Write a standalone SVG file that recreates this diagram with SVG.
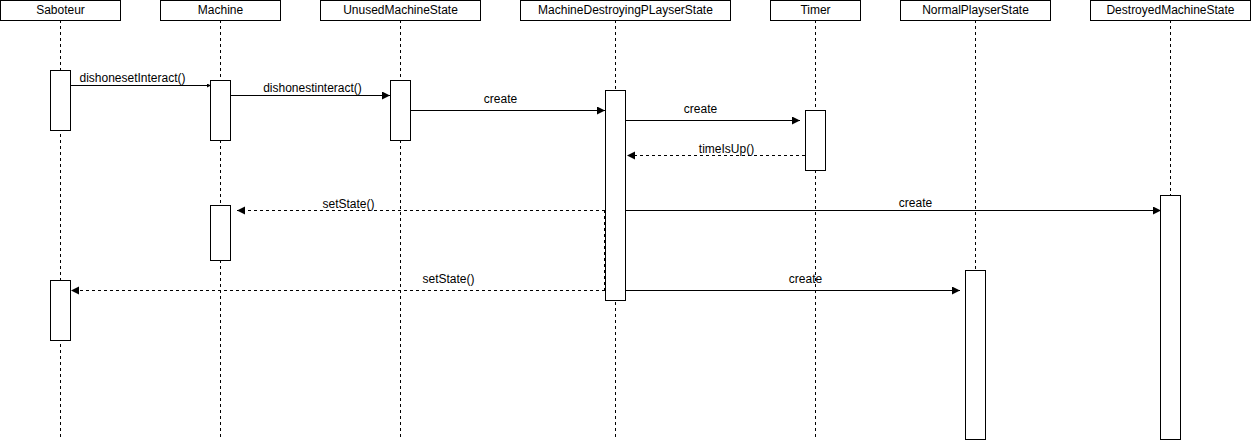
<svg xmlns="http://www.w3.org/2000/svg" width="1251" height="442" viewBox="0 0 1251 442">
  <style>
    .head { fill: #ffffff; stroke: #000000; stroke-width: 1; }
    .life { fill: none; stroke: #000000; stroke-width: 1; stroke-dasharray: 3 3; }
    .act { fill: #ffffff; stroke: #000000; stroke-width: 1; }
    .name { font-family: "Liberation Sans", Arial, sans-serif; font-size: 12px; fill: #000000; text-anchor: middle; }
    .msg { fill: none; stroke: #000000; stroke-width: 1; marker-end: url(#arrow); }
    .reply { fill: none; stroke: #000000; stroke-width: 1; stroke-dasharray: 3 3; marker-end: url(#arrow); }
    .label { font-family: "Liberation Sans", Arial, sans-serif; font-size: 12px; fill: #000000; text-anchor: middle; }
  </style>
  <defs>
    <marker id="arrow" markerUnits="userSpaceOnUse" markerWidth="10" markerHeight="10" refX="8" refY="4" orient="auto">
      <path d="M0,0 L8,4 L0,8 Z" fill="#000000"/>
    </marker>
    <marker id="arrowSmall" markerUnits="userSpaceOnUse" markerWidth="6" markerHeight="6" refX="4" refY="2" orient="auto">
      <path d="M0,0 L4,2 L0,4 Z" fill="#000000"/>
    </marker>
  </defs>
  <rect width="1251" height="442" fill="#ffffff"/>

  <!-- participants: header box and lifeline -->
  <g id="saboteur">
    <line class="life" x1="60.5" y1="20" x2="60.5" y2="440"/>
    <rect class="head" x="0.5" y="0.5" width="120" height="20"/>
    <text class="name" x="60.5" y="14">Saboteur</text>
  </g>
  <g id="machine">
    <line class="life" x1="220.5" y1="20" x2="220.5" y2="440"/>
    <rect class="head" x="160.5" y="0.5" width="120" height="20"/>
    <text class="name" x="220.5" y="14">Machine</text>
  </g>
  <g id="unused-machine-state">
    <line class="life" x1="400.5" y1="20" x2="400.5" y2="440"/>
    <rect class="head" x="320.5" y="0.5" width="160" height="20"/>
    <text class="name" x="400.5" y="14">UnusedMachineState</text>
  </g>
  <g id="machine-destroying-playser-state">
    <line class="life" x1="615.5" y1="20" x2="615.5" y2="440"/>
    <rect class="head" x="520.5" y="0.5" width="210" height="20"/>
    <text class="name" x="625.5" y="14">MachineDestroyingPLayserState</text>
  </g>
  <g id="timer">
    <line class="life" x1="815.5" y1="20" x2="815.5" y2="440"/>
    <rect class="head" x="770.5" y="0.5" width="90" height="20"/>
    <text class="name" x="815.5" y="14">Timer</text>
  </g>
  <g id="normal-playser-state">
    <line class="life" x1="975.5" y1="20" x2="975.5" y2="440"/>
    <rect class="head" x="900.5" y="0.5" width="150" height="20"/>
    <text class="name" x="975.5" y="14">NormalPlayserState</text>
  </g>
  <g id="destroyed-machine-state">
    <line class="life" x1="1170.5" y1="20" x2="1170.5" y2="440"/>
    <rect class="head" x="1090.5" y="0.5" width="160" height="20"/>
    <text class="name" x="1170.5" y="14">DestroyedMachineState</text>
  </g>

  <!-- messages -->
  <g id="connectors">
    <line class="msg" x1="70" y1="85.5" x2="211" y2="85.5" style="marker-end:url(#arrowSmall)"/>
    <text class="label" x="132.5" y="82">dishonesetInteract()</text>

    <line class="msg" x1="230" y1="95.5" x2="390" y2="95.5"/>
    <text class="label" x="312.5" y="92">dishonestinteract()</text>

    <line class="msg" x1="410" y1="110.5" x2="605" y2="110.5"/>
    <text class="label" x="500.5" y="102.5">create</text>

    <line class="msg" x1="625" y1="120.5" x2="800" y2="120.5"/>
    <text class="label" x="700.5" y="112.5">create</text>

    <line class="reply" x1="805" y1="155.5" x2="627" y2="155.5"/>
    <text class="label" x="726.5" y="152.5">timeIsUp()</text>

    <line class="life" x1="604.5" y1="210" x2="604.5" y2="290"/>

    <line class="reply" x1="605" y1="210.5" x2="237" y2="210.5"/>
    <text class="label" x="348.5" y="208">setState()</text>

    <line class="msg" x1="625" y1="210.5" x2="1161" y2="210.5"/>
    <text class="label" x="915.5" y="207">create</text>

    <line class="reply" x1="605" y1="290.5" x2="71" y2="290.5"/>
    <text class="label" x="448.5" y="283">setState()</text>

    <line class="msg" x1="625" y1="290.5" x2="960" y2="290.5"/>
    <text class="label" x="805.5" y="283">create</text>
  </g>

  <!-- activation bars -->
  <g id="saboteur-activation-1"><rect class="act" x="50.5" y="70.5" width="20" height="60"/></g>
  <g id="machine-activation-1"><rect class="act" x="210.5" y="80.5" width="20" height="60"/></g>
  <g id="unused-machine-state-activation"><rect class="act" x="390.5" y="80.5" width="20" height="60"/></g>
  <g id="machine-destroying-playser-state-activation"><rect class="act" x="605.5" y="90.5" width="20" height="210"/></g>
  <g id="timer-activation"><rect class="act" x="805.5" y="110.5" width="20" height="60"/></g>
  <g id="machine-activation-2"><rect class="act" x="210.5" y="205.5" width="20" height="55"/></g>
  <g id="saboteur-activation-2"><rect class="act" x="50.5" y="280.5" width="20" height="60"/></g>
  <g id="destroyed-machine-state-activation"><rect class="act" x="1160.5" y="195.5" width="20" height="244"/></g>
  <g id="normal-playser-state-activation"><rect class="act" x="965.5" y="270.5" width="20" height="169"/></g>
</svg>
